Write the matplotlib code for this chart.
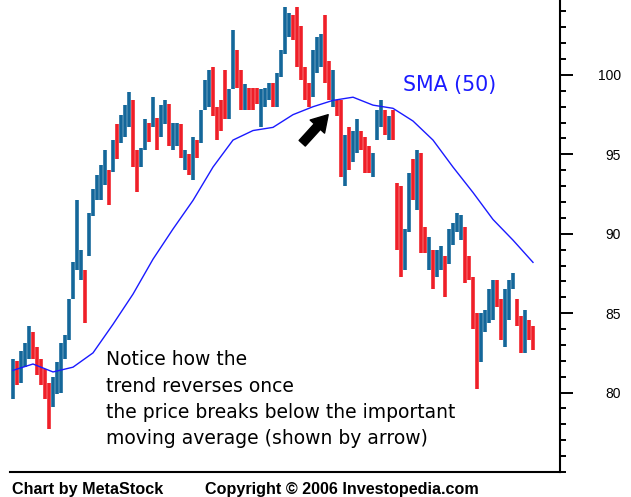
import numpy as np
import matplotlib
matplotlib.use("Agg")
import matplotlib.pyplot as plt
from matplotlib.ticker import MultipleLocator

# daily bars (price units)
highs = [82.1, 82.0, 82.6, 83.1, 84.2, 83.8, 82.9, 82.1, 81.5, 80.6,
         81.0, 81.9, 83.1, 83.6, 85.9, 88.2, 92.1, 89.0, 87.7, 91.3,
         92.8, 93.7, 94.3, 95.3, 94.0, 95.9, 96.9, 97.5, 98.1, 98.9,
         98.4, 95.3, 95.4, 97.2, 97.0, 98.6, 97.3, 98.1, 98.4, 98.2,
         97.0, 97.0, 96.9, 95.3, 95.0, 96.1, 95.9, 97.8, 99.7, 100.3,
         100.5, 98.0, 98.4, 100.3, 99.1, 102.8, 101.6, 100.3, 99.4, 99.2,
         99.2, 99.2, 99.1, 99.2, 99.5, 99.5, 100.1, 101.6, 104.3, 103.9,
         103.8, 104.3, 103.1, 100.5, 99.5, 101.6, 102.4, 102.6, 103.8, 100.9,
         100.3, 98.4, 98.4, 96.2, 96.7, 96.5, 97.2, 96.5, 96.1, 95.5,
         95.1, 97.8, 98.4, 97.8, 97.4, 97.8, 93.2, 93.0, 90.3, 93.8,
         94.7, 95.3, 95.1, 90.4, 89.8, 89.0, 89.0, 89.2, 88.6, 90.3,
         90.7, 91.3, 91.2, 90.4, 88.6, 87.3, 85.0, 85.0, 85.2, 86.5,
         87.1, 87.1, 85.9, 86.5, 87.1, 87.5, 85.9, 84.8, 85.2, 84.6,
         84.2]
lows = [79.6, 80.5, 80.6, 81.6, 82.1, 82.1, 81.1, 80.5, 79.6, 77.7,
        79.1, 79.9, 80.0, 82.1, 83.3, 85.9, 87.7, 87.1, 84.4, 88.6,
        91.1, 92.1, 92.1, 93.1, 91.8, 93.9, 94.7, 95.7, 96.1, 96.7,
        94.2, 92.6, 94.2, 95.3, 95.8, 96.7, 95.3, 96.1, 96.9, 95.5,
        95.3, 95.5, 94.8, 94.0, 93.7, 93.4, 94.8, 95.7, 97.8, 98.0,
        97.4, 95.9, 96.5, 97.2, 97.2, 99.1, 99.2, 97.8, 97.8, 97.8,
        97.8, 98.2, 96.7, 98.0, 98.4, 98.0, 98.0, 99.9, 101.3, 102.4,
        102.2, 100.5, 99.7, 98.4, 98.0, 98.6, 100.1, 100.5, 99.5, 98.4,
        98.0, 97.4, 93.6, 93.0, 94.0, 94.5, 95.1, 95.3, 93.8, 93.8,
        93.6, 95.9, 96.7, 96.2, 95.9, 95.9, 89.0, 87.3, 87.7, 90.1,
        92.1, 91.5, 88.8, 88.8, 87.7, 86.5, 87.3, 87.7, 86.0, 88.1,
        89.3, 90.1, 89.6, 86.9, 87.1, 84.0, 80.2, 81.9, 83.8, 84.4,
        84.6, 85.4, 83.3, 82.9, 84.6, 86.5, 84.2, 82.5, 82.5, 83.3,
        82.7]
# u = up day (blue), d = down day (red)
direction = "".join([
    "uduuuddddd",
    "uuuuuuuudu",
    "uuuududuuu",
    "dduududuud",
    "uudududuuu",
    "dddduuddud",
    "dduuuduuuu",
    "ddddduuudd",
    "udduduuddd",
    "uuududdduu",
    "dudduduudu",
    "uuudddduuu",
    "udduuuddud",
    "d",
])

# 50 day simple moving average, sampled every 5 bars
sma_step = 5
sma = [81.4, 81.8, 81.3, 81.6, 82.5, 84.3, 86.2, 88.4, 90.3, 92.1,
       94.2, 95.9, 96.5, 96.7, 97.5, 98.0, 98.4, 98.6, 98.1, 97.9,
       97.1, 95.9, 94.2, 92.6, 90.9, 89.6, 88.2]

note_lines = ["Notice how the",
              "trend reverses once",
              "the price breaks below the important",
              "moving average (shown by arrow)"]

up_color = "#14679a"
down_color = "#ef1f28"
sma_color = "#1a1aff"

plt.rcParams["font.family"] = ["Liberation Sans", "DejaVu Sans"]

fig = plt.figure(figsize=(6.31, 4.97), dpi=100)
ax = fig.add_axes([10 / 631, 25 / 497, 550 / 631, 472 / 497])

x = np.arange(len(highs))
colors = [up_color if d == "u" else down_color for d in direction]
ax.vlines(x, lows, highs, colors=colors, linewidth=2.6)

sma_x = np.arange(0, len(highs), sma_step)
ax.plot(sma_x, sma, color=sma_color, linewidth=1.0)

# arrow pointing at the break below the SMA
ax.annotate("", xy=(78.8, 97.5), xytext=(72.3, 95.7),
            arrowprops=dict(arrowstyle="simple,head_length=0.58,head_width=0.7,tail_width=0.3",
                            mutation_scale=20, color="black", shrinkA=0, shrinkB=0))

ax.set_xlim(-0.75, 136.75)
ax.set_ylim(75.0, 104.72)

for side in ["top", "left"]:
    ax.spines[side].set_visible(False)
for side in ["right", "bottom"]:
    ax.spines[side].set_linewidth(1.5)
    ax.spines[side].set_color("black")

ax.set_xticks([])
ax.yaxis.tick_right()
ax.set_yticks([80, 85, 90, 95, 100])
ax.yaxis.set_minor_locator(MultipleLocator(1))
ax.tick_params(axis="y", which="major", direction="out", length=9, width=1.4,
               labelsize=10, pad=35)
ax.tick_params(axis="y", which="minor", direction="out", length=4.5, width=1.4)
plt.setp(ax.get_yticklabels(), ha="right")

fig.text(403 / 631, 1 - 91 / 497, "SMA (50)", color=sma_color, fontsize=14.8,
         family="DejaVu Sans", va="baseline")

for k, line in enumerate(note_lines):
    fig.text(106 / 631, 1 - (365 + 26.5 * k) / 497, line, fontsize=13.5,
             family="DejaVu Sans", va="baseline")

fig.text(12 / 631, 3 / 497, "Chart by MetaStock", fontsize=11.6,
         fontweight="bold", va="baseline")
fig.text(205 / 631, 3 / 497, "Copyright \u00a9 2006 Investopedia.com",
         fontsize=11.6, fontweight="bold", va="baseline")

fig.savefig("out.png", dpi=100)
